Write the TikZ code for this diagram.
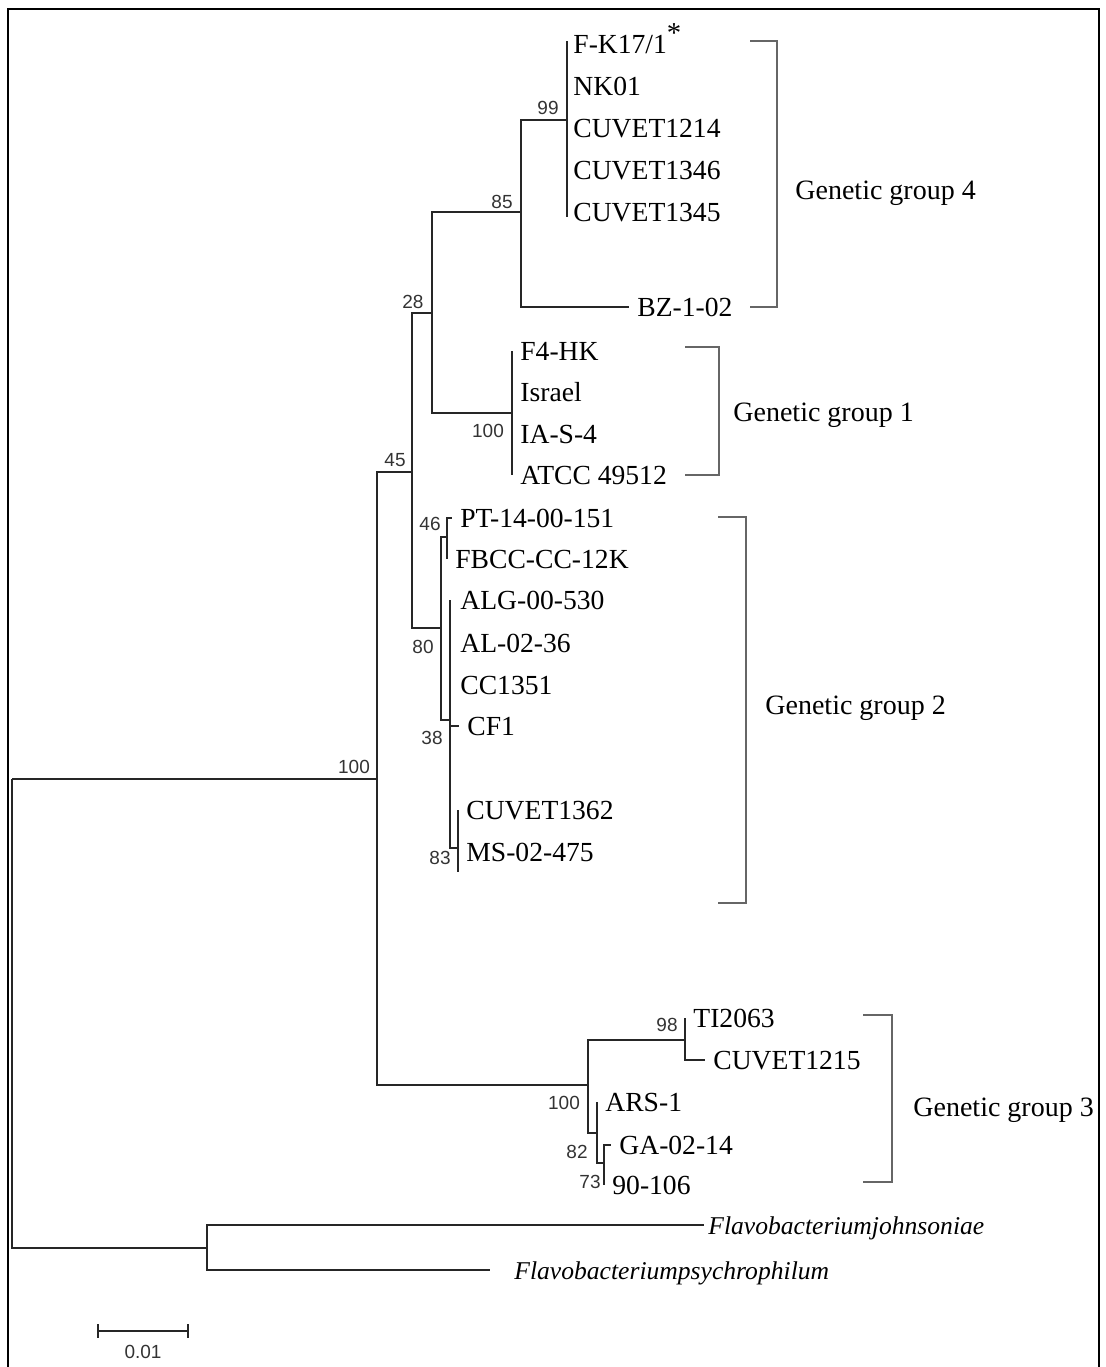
\documentclass[tikz,border=0pt]{standalone}
\usepackage{fontspec}
\setmainfont{Liberation Serif}
\newfontfamily\bootfont{Liberation Sans}
\begin{document}
\begin{tikzpicture}[x=0.5pt,y=-0.5pt,
	branch/.style={draw=black!85,line width=1.2pt},
	bracket/.style={draw=black!60,line width=0.8pt},
	taxon/.style={anchor=west,inner xsep=4pt,inner ysep=0pt,text height=10pt,text depth=1pt,font=\fontsize{13.8}{15}\selectfont},
	outgrp/.style={taxon,font=\fontsize{12.8}{15}\selectfont\itshape},
	grplabel/.style={anchor=west,inner sep=0pt,text height=10pt,text depth=1pt,font=\fontsize{14}{16}\selectfont},
	boot/.style={inner sep=0pt,text=black!80,font=\bootfont\fontsize{9.5}{11}\selectfont}]
	\useasboundingbox (0,0) rectangle (1105,1367);
	\draw[line width=1.2pt] (8,1380) -- (8,9) -- (1099,9) -- (1099,1380);
	% internal nodes
	\coordinate (root) at (12,779);
	\coordinate (n100a) at (377,779);
	\coordinate (n45) at (412,472);
	\coordinate (n28) at (432,313);
	\coordinate (n85) at (521,212);
	\coordinate (n99) at (567,120);
	\coordinate (n100b) at (512,413);
	\coordinate (n80) at (441,628);
	\coordinate (n46) at (447,537);
	\coordinate (n38) at (450,720);
	\coordinate (n83) at (458,848);
	\coordinate (n100c) at (588,1085);
	\coordinate (n98) at (685,1040);
	\coordinate (n82) at (597,1133);
	\coordinate (n73) at (604,1163);
	\coordinate (nout) at (207,1248);
	% taxa
	\node[taxon,inner xsep=3pt] (fk) at (567,44) {F-K17/1\textsuperscript{\Large*}};
	\node[taxon,inner xsep=3pt] (nk) at (567,86) {NK01};
	\node[taxon,inner xsep=3pt] (c1214) at (567,128) {CUVET1214};
	\node[taxon,inner xsep=3pt] (c1346) at (567,170) {CUVET1346};
	\node[taxon,inner xsep=3pt] (c1345) at (567,212) {CUVET1345};
	\node[taxon] (bz) at (629,307) {BZ-1-02};
	\node[taxon] (f4) at (512,351) {F4-HK};
	\node[taxon] (isr) at (512,392) {Israel};
	\node[taxon] (ias) at (512,434) {IA-S-4};
	\node[taxon] (atcc) at (512,475) {ATCC 49512};
	\node[taxon] (pt) at (452,518) {PT-14-00-151};
	\node[taxon] (fbcc) at (447,559) {FBCC-CC-12K};
	\node[taxon,inner xsep=5pt] (alg) at (450,600) {ALG-00-530};
	\node[taxon,inner xsep=5pt] (al) at (450,643) {AL-02-36};
	\node[taxon,inner xsep=5pt] (cc) at (450,685) {CC1351};
	\node[taxon] (cf) at (459,726) {CF1};
	\node[taxon] (c1362) at (458,810) {CUVET1362};
	\node[taxon] (ms) at (458,852) {MS-02-475};
	\node[taxon] (ti) at (685,1018) {TI2063};
	\node[taxon] (c1215) at (705,1060) {CUVET1215};
	\node[taxon] (ars) at (597,1102) {ARS-1};
	\node[taxon] (ga) at (611,1145) {GA-02-14};
	\node[taxon] (g90) at (604,1185) {90-106};
	\node[outgrp,inner xsep=2pt] (joh) at (704,1225) {Flavobacteriumjohnsoniae};
	\node[outgrp,inner xsep=12pt] (psy) at (490,1270) {Flavobacteriumpsychrophilum};
	% branches
	\draw[branch] (root) -- (n100a);
	\draw[branch] (root) |- (nout);
	\draw[branch] (nout) |- (joh.west);
	\draw[branch] (nout) |- (psy.west);
	\draw[branch] (n100a) |- (n45);
	\draw[branch] (n100a) |- (n100c);
	\draw[branch] (n45) |- (n28);
	\draw[branch] (n45) |- (n80);
	\draw[branch] (n28) |- (n85);
	\draw[branch] (n28) |- (n100b);
	\draw[branch] (n85) |- (n99);
	\draw[branch] (n85) |- (bz.west);
	\draw[branch] ([yshift=1.5pt]fk.west) -- ([yshift=-2.5pt]c1345.west);
	\draw[branch] (f4.west) -- (atcc.west);
	\draw[branch] (n80) |- (n46);
	\draw[branch] (n80) |- (n38);
	\draw[branch] (n46) |- (pt.west);
	\draw[branch] (n46) |- (fbcc.west);
	\draw[branch] (n38) |- (alg.west);
	\draw[branch] (n38) |- (cf.west);
	\draw[branch] (n38) |- (n83);
	\draw[branch] (n83) |- (c1362.west);
	\draw[branch] (n83) |- ([yshift=-10pt]ms.west);
	\draw[branch] (n100c) |- (n98);
	\draw[branch] (n100c) |- (n82);
	\draw[branch] (n98) |- (ti.west);
	\draw[branch] (n98) |- (c1215.west);
	\draw[branch] (n82) |- (ars.west);
	\draw[branch] (n82) |- (n73);
	\draw[branch] (n73) |- (ga.west);
	\draw[branch] (n73) |- (g90.west);
	% bootstrap values
	\node[boot] (b99) at (548,108) {99};
	\node[boot] (b85) at (502,202) {85};
	\node[boot] (b28) at (413,302) {28};
	\node[boot] (b45) at (395,460) {45};
	\node[boot] (b100b) at (488,431) {100};
	\node[boot] (b46) at (430,524) {46};
	\node[boot] (b80) at (423,647) {80};
	\node[boot] (b38) at (432,738) {38};
	\node[boot] (b83) at (440,858) {83};
	\node[boot] (b100a) at (354,767) {100};
	\node[boot] (b100c) at (564,1103) {100};
	\node[boot] (b98) at (667,1025) {98};
	\node[boot] (b82) at (577,1152) {82};
	\node[boot] (b73) at (590,1182) {73};
	% genetic groups
	\draw[bracket] (750,41) -| (777,307) -- (750,307);
	\node[grplabel] (g4) at (795,190) {Genetic group 4};
	\draw[bracket] (685,347) -| (719,475) -- (685,475);
	\node[grplabel] (g1) at (733,412) {Genetic group 1};
	\draw[bracket] (718,517) -| (746,903) -- (718,903);
	\node[grplabel] (g2) at (765,705) {Genetic group 2};
	\draw[bracket] (863,1015) -| (892,1182) -- (863,1182);
	\node[grplabel] (g3) at (913,1107) {Genetic group 3};
	% scale bar
	\coordinate (sbl) at (98,1331);
	\coordinate (sbr) at (188,1331);
	\draw[branch] (sbl) -- (sbr);
	\draw[branch] ([yshift=3.5pt]sbl) -- ([yshift=-3.5pt]sbl);
	\draw[branch] ([yshift=3.5pt]sbr) -- ([yshift=-3.5pt]sbr);
	\node[boot] (scl) at (143,1352) {0.01};
\end{tikzpicture}
\end{document}
